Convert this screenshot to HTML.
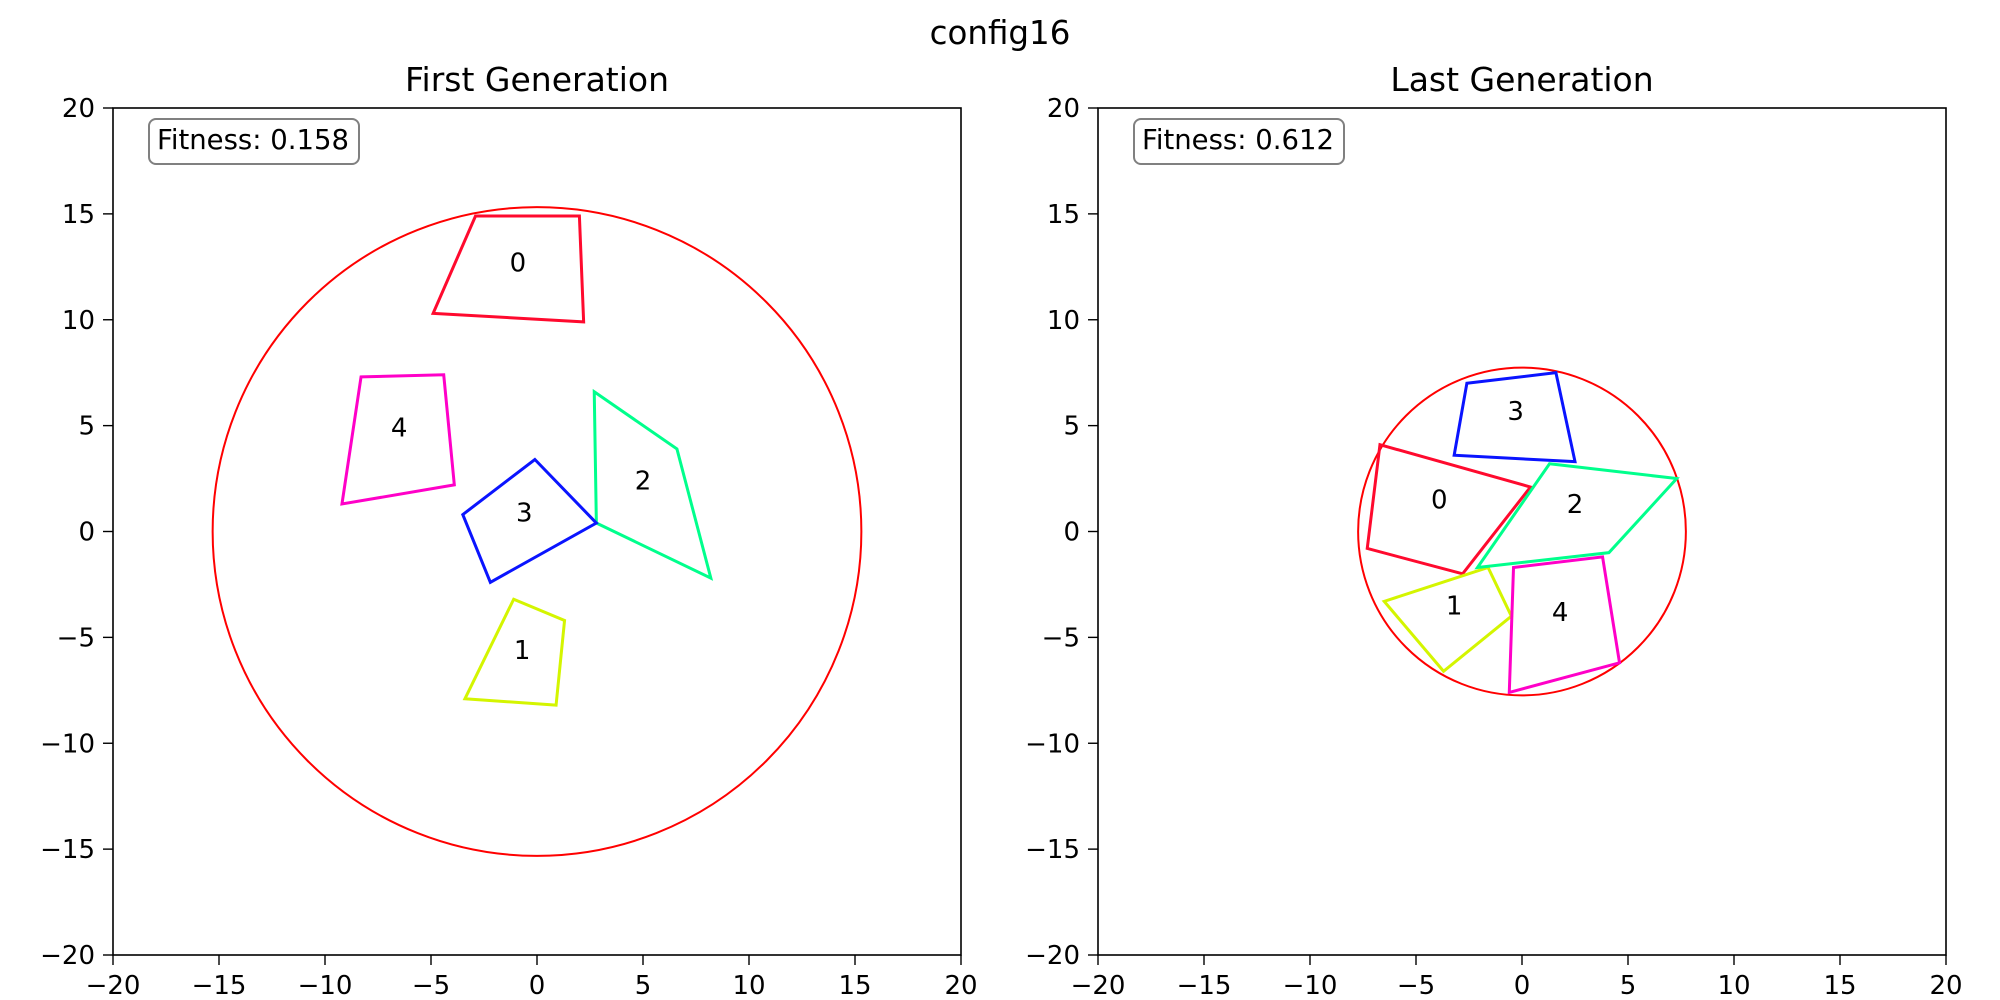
<!DOCTYPE html>
<html><head><meta charset="utf-8"><style>
html,body{margin:0;padding:0;background:#fff;}
svg{display:block;font-family:"DejaVu Sans","Liberation Sans",sans-serif;}
</style></head><body>
<svg id="fig" width="2000" height="1000" viewBox="0 0 2000 1000">
<text x="1000" y="44" font-size="32.5" text-anchor="middle">config16</text>
</svg>
<script>
const ticks=[-20,-15,-10,-5,0,5,10,15,20];
const panelTitles=["First Generation","Last Generation"];
const fitness=["Fitness: 0.158","Fitness: 0.612"];
const circleRadius=[15.3,7.73];
const colors=["#ff0a2e","#d4f500","#00ff8c","#0a14ff","#ff00c8"];
const leftPolys=[
 [[-2.9,14.9],[2,14.9],[2.2,9.9],[-4.9,10.3]],
 [[-1.1,-3.2],[1.3,-4.2],[0.9,-8.2],[-3.4,-7.9]],
 [[2.7,6.6],[6.6,3.9],[8.2,-2.2],[2.8,0.4]],
 [[-0.1,3.4],[2.8,0.4],[-2.2,-2.4],[-3.5,0.8]],
 [[-8.3,7.3],[-4.4,7.4],[-3.9,2.2],[-9.2,1.3]]];
const leftLabels=[[-0.9,12.7],[-0.7,-5.6],[5,2.4],[-0.6,0.9],[-6.5,4.9]];
const rightPolys=[
 [[-6.7,4.1],[0.4,2.1],[-2.8,-2.0],[-7.3,-0.8]],
 [[-6.5,-3.3],[-1.6,-1.7],[-0.5,-4.0],[-3.7,-6.6]],
 [[1.3,3.2],[7.3,2.5],[4.1,-1.0],[-2.1,-1.7]],
 [[-2.6,7.0],[1.6,7.5],[2.5,3.3],[-3.2,3.6]],
 [[-0.4,-1.7],[3.8,-1.2],[4.6,-6.2],[-0.6,-7.6]]];
const rightLabels=[[-3.9,1.5],[-3.2,-3.5],[2.5,1.3],[-0.3,5.7],[1.8,-3.8]];
const polysets=[leftPolys,rightPolys];
const labelsets=[leftLabels,rightLabels];
const panels=[{x0:113,x1:961},{x0:1098,x1:1946}];
const Y0=108,Y1=955;
const NS="http://www.w3.org/2000/svg";
const svg=document.getElementById('fig');
function mk(t,a,p){const e=document.createElementNS(NS,t);for(const k in a)e.setAttribute(k,a[k]);(p||svg).appendChild(e);return e;}
panels.forEach((P,pi)=>{
 const sx=v=>P.x0+(v+20)/40*(P.x1-P.x0);
 const sy=v=>Y1-(v+20)/40*(Y1-Y0);
 const g=mk('g',{});
 
 
 const t=mk('text',{x:(P.x0+P.x1)/2,y:91,'font-size':33,'text-anchor':'middle'},g);t.textContent=panelTitles[pi];
 
 
 const c=mk('circle',{cx:sx(0),cy:sy(0),r:circleRadius[pi]/40*(P.x1-P.x0),fill:'none',stroke:'#ff0000','stroke-width':2},g);
 
 
 polysets[pi].forEach((poly,i)=>{
  const p=mk('polygon',{points:poly.map(q=>sx(q[0])+','+sy(q[1])).join(' '),fill:'none',stroke:colors[i],'stroke-width':3,'stroke-linejoin':'miter'},g);
  
  
  const L=labelsets[pi][i];
  const lt=mk('text',{x:sx(L[0]),y:sy(L[1])+9,'font-size':26,'text-anchor':'middle'},g);lt.textContent=String(i);
  
  
 });
 mk('rect',{x:P.x0,y:Y0,width:P.x1-P.x0,height:Y1-Y0,fill:'none',stroke:'#000','stroke-width':1.6},g);
 ticks.forEach(v=>{
  mk('line',{x1:sx(v),x2:sx(v),y1:Y1,y2:Y1+10,stroke:'#000','stroke-width':1.4},g);
  const xt=mk('text',{x:sx(v),y:994,'font-size':26,'text-anchor':'middle'},g);xt.textContent=(v<0?'\u2212':'')+Math.abs(v);
  
  
  mk('line',{x1:P.x0-10,x2:P.x0,y1:sy(v),y2:sy(v),stroke:'#000','stroke-width':1.4},g);
  const yt=mk('text',{x:P.x0-18,y:sy(v)+9,'font-size':26,'text-anchor':'end'},g);yt.textContent=(v<0?'\u2212':'')+Math.abs(v);
  
  
 });
 const fb=mk('rect',{x:P.x0+36,y:119,width:210,height:45,rx:7,fill:'#fff',stroke:'#808080','stroke-width':2},g);
 
 
 const ft=mk('text',{x:P.x0+44,y:149,'font-size':27.5},g);ft.textContent=fitness[pi];
 
 
});
</script>
</body></html>
